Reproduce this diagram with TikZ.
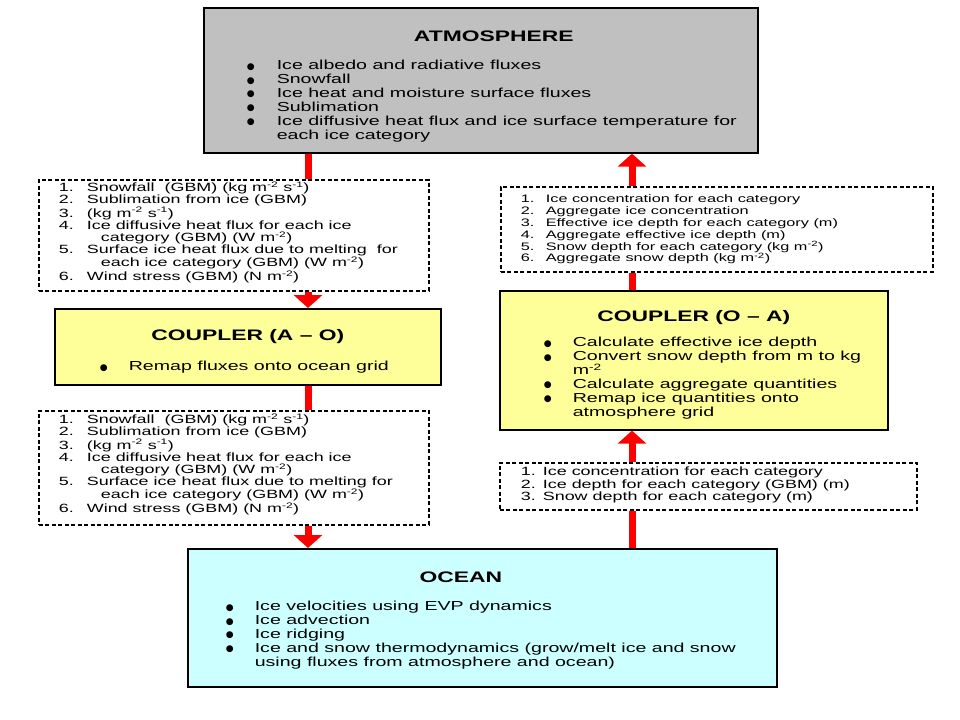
\documentclass[tikz,border=0pt]{standalone}
\usepackage{fontspec}
\setmainfont[FakeStretch=1.5]{Liberation Sans}
\newfontfamily\dotfont{DejaVu Sans}
\usetikzlibrary{arrows.meta}
\definecolor{AtmosGray}{RGB}{192,192,192}
\definecolor{CouplerYellow}{RGB}{255,255,153}
\definecolor{OceanCyan}{RGB}{204,255,255}
\definecolor{FlowRed}{RGB}{255,0,0}

\newlength\itemL
\newlength\itemI
\newlength\itemH
\newcommand{\setitems}[3]{\setlength\itemL{#1}\setlength\itemI{#2}\setlength\itemH{#3}}
\newcommand{\itm}[2]{\par\hangindent=\itemH\hangafter=1\noindent\hspace*{\itemL}\makebox[\itemI][l]{#1}#2}
\newcommand{\bul}{\raisebox{0.8bp}{\dotfont\fontsize{9}{9}\selectfont ●}}
\newcommand{\titlefont}{\fontsize{15.3}{16}\selectfont\bfseries}
\newcommand{\boxfont}{\fontsize{13.1}{14}\selectfont}
\newcommand{\sq}[1]{\textsuperscript{#1}}

\begin{document}
\begin{tikzpicture}[x=1bp, y=-1bp,
    box/.style={draw=black, line width=1.6bp, anchor=north west, inner sep=0pt},
    listbox/.style={draw=black, line width=1.7bp, dash pattern=on 4bp off 2.5bp, fill=white, anchor=north west, inner sep=0pt},
    link/.style={draw=FlowRed, line width=7bp},
    flow/.style={link, -{Triangle[width=28bp, length=13bp]}}]
  \useasboundingbox (0,0) rectangle (960,720);

  % component boxes
  \node[box, fill=AtmosGray] (atm) at (203,7) {\begin{minipage}[t][145bp][t]{554bp}\raggedright
      \null\vspace{17.65bp}
      {\centering\hspace*{26bp}\titlefont ATMOSPHERE\par}
      \vspace{14.55bp}
      \boxfont\setitems{43bp}{30bp}{73bp}
      \itm{\bul}{Ice albedo and radiative fluxes}
      \itm{\bul}{Snowfall}
      \itm{\bul}{Ice heat and moisture surface fluxes}
      \itm{\bul}{Sublimation}
      \itm{\bul}{Ice diffusive heat flux and ice surface temperature for\newline each ice category}
    \end{minipage}};

  \node[box, fill=CouplerYellow] (cao) at (54,308) {\begin{minipage}[t][76bp][t]{386bp}\raggedright
      \null\vspace{15.65bp}
      {\centering\titlefont COUPLER (A -- O)\par}
      \vspace{16.55bp}
      \boxfont\setitems{45bp}{29bp}{74bp}
      \itm{\bul}{Remap fluxes onto ocean grid}
    \end{minipage}};

  \node[box, fill=CouplerYellow] (coa) at (499,290) {\begin{minipage}[t][139bp][t]{388bp}\raggedright
      \null\vspace{14.65bp}
      {\centering\titlefont COUPLER (O -- A)\par}
      \vspace{11.55bp}
      \boxfont\setitems{44bp}{29bp}{73bp}
      \itm{\bul}{Calculate effective ice depth}
      \itm{\bul}{Convert snow depth from m to kg\newline m\sq{-2}}
      \itm{\bul}{Calculate aggregate quantities}
      \itm{\bul}{Remap ice quantities onto\newline atmosphere grid}
    \end{minipage}};

  \node[box, fill=OceanCyan] (ocean) at (187,548) {\begin{minipage}[t][138bp][t]{589bp}\raggedright
      \null\vspace{17.65bp}
      {\centering\hspace*{-43bp}\titlefont OCEAN\par}
      \vspace{14.55bp}
      \boxfont\setitems{38bp}{29bp}{67bp}
      \itm{\bul}{Ice velocities using EVP dynamics}
      \itm{\bul}{Ice advection}
      \itm{\bul}{Ice ridging}
      \itm{\bul}{Ice and snow thermodynamics (grow/melt ice and snow\newline using fluxes from atmosphere and ocean)}
    \end{minipage}};

  % exchanged fields
  \node[listbox] (dl1) at (38,179) {\begin{minipage}[t][111bp][t]{390bp}\raggedright
      \null\vspace{-0.4bp}
      \fontsize{12}{12.2}\selectfont\setitems{20bp}{28bp}{62bp}
      \itm{1.}{Snowfall\ \ (GBM) (kg m\sq{-2} s\sq{-1})}
      \itm{2.}{Sublimation from ice (GBM)}
      \itm{3.}{(kg m\sq{-2} s\sq{-1})}
      \itm{4.}{Ice diffusive heat flux for each ice\newline category (GBM) (W m\sq{-2})}
      \itm{5.}{Surface ice heat flux due to melting\ \ for\newline each ice category (GBM) (W m\sq{-2})}
      \itm{6.}{Wind stress (GBM) (N m\sq{-2})}
    \end{minipage}};

  \node[listbox] (dl2) at (38,410) {\begin{minipage}[t][114bp][t]{390bp}\raggedright
      \null\vspace{0.6bp}
      \fontsize{12}{12.2}\selectfont\setitems{20bp}{28bp}{62bp}
      \itm{1.}{Snowfall\ \ (GBM) (kg m\sq{-2} s\sq{-1})}
      \itm{2.}{Sublimation from ice (GBM)}
      \itm{3.}{(kg m\sq{-2} s\sq{-1})}
      \itm{4.}{Ice diffusive heat flux for each ice\newline category (GBM) (W m\sq{-2})}
      \itm{5.}{Surface ice heat flux due to melting for\newline each ice category (GBM) (W m\sq{-2})}
      \itm{6.}{Wind stress (GBM) (N m\sq{-2})}
    \end{minipage}};

  \node[listbox] (dr1) at (500,186) {\begin{minipage}[t][85bp][t]{432bp}\raggedright
      \null\vspace{3.4bp}
      \fontsize{10.9}{12}\selectfont\setitems{20bp}{25bp}{45bp}
      \itm{1.}{Ice concentration for each category}
      \itm{2.}{Aggregate ice concentration}
      \itm{3.}{Effective ice depth for each category (m)}
      \itm{4.}{Aggregate effective ice depth (m)}
      \itm{5.}{Snow depth for each category (kg m\sq{-2})}
      \itm{6.}{Aggregate snow depth (kg m\sq{-2})}
    \end{minipage}};

  \node[listbox] (dr2) at (499,462) {\begin{minipage}[t][47bp][t]{417bp}\raggedright
      \null\vspace{0.3bp}
      \fontsize{12}{12.5}\selectfont\setitems{21bp}{22bp}{43bp}
      \itm{1.}{Ice concentration for each category}
      \itm{2.}{Ice depth for each category (GBM) (m)}
      \itm{3.}{Snow depth for each category (m)}
    \end{minipage}};

  % red flows
  \coordinate (lx) at (308,0);
  \coordinate (rx) at (632,0);
  \draw[link] (atm.south -| lx) -- (dl1.north -| lx);
  \draw[flow] (dl1.south -| lx) -- (cao.north -| lx);
  \draw[link] (cao.south -| lx) -- (dl2.north -| lx);
  \draw[flow] (dl2.south -| lx) -- (ocean.north -| lx);
  \draw[link] (ocean.north -| rx) -- (dr2.south -| rx);
  \draw[flow] (dr2.north -| rx) -- (coa.south -| rx);
  \draw[link] (coa.north -| rx) -- (dr1.south -| rx);
  \draw[flow] (dr1.north -| rx) -- (atm.south -| rx);
\end{tikzpicture}
\end{document}
